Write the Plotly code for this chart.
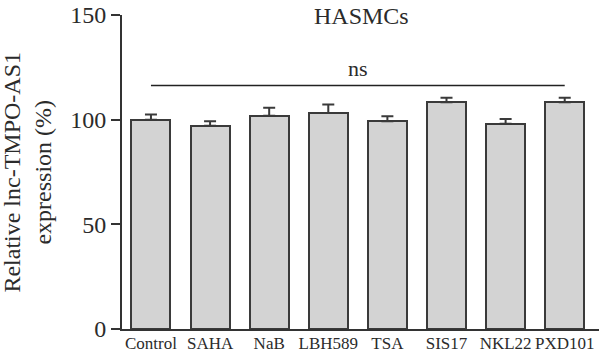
import plotly.graph_objects as go

categories = ["Control", "SAHA", "NaB", "LBH589", "TSA", "SIS17", "NKL22", "PXD101"]
values = [100.0, 97.1, 101.9, 103.2, 99.2, 108.3, 98.1, 108.3]
errors = [2.5, 2.2, 3.8, 4.0, 2.4, 2.2, 2.2, 2.2]
y_ticks = [0, 50, 100, 150]
sig_y = 116.3
sig_label = "ns"
title_text = "HASMCs"
y_label = "Relative lnc-TMPO-AS1<br>expression (%)"

FONT = "Liberation Serif"
INK = "#2b2b2b"

x_idx = list(range(len(categories)))

fig = go.Figure()
fig.add_trace(go.Bar(
    x=x_idx, y=values, width=0.66,
    marker=dict(color="#d3d3d3", line=dict(color="#3a3a3a", width=2)),
    error_y=dict(type="data", array=errors, arrayminus=[0] * len(errors),
                 symmetric=False, color="#3a3a3a", thickness=2, width=6),
    showlegend=False,
))

fig.add_shape(type="line", xref="x", yref="y", x0=x_idx[0], x1=x_idx[-1],
              y0=sig_y, y1=sig_y, line=dict(color="#222", width=1.5))
fig.add_annotation(x=(x_idx[0] + x_idx[-1]) / 2, y=sig_y + 1.0, xref="x", yref="y",
                   text=sig_label, showarrow=False, yanchor="bottom",
                   font=dict(family=FONT, size=22, color=INK))
fig.add_annotation(x=3.57, y=149.5, xref="x", yref="y", text=title_text,
                   showarrow=False, yanchor="middle",
                   font=dict(family=FONT, size=24, color=INK))
fig.add_annotation(x=-0.2, y=0.5, xref="paper", yref="paper", text=y_label,
                   textangle=-90, showarrow=False, xanchor="center", yanchor="middle",
                   font=dict(family=FONT, size=24, color=INK))

fig.update_layout(
    width=600, height=355,
    margin=dict(l=122, r=1, t=15, b=26),
    plot_bgcolor="white", paper_bgcolor="white",
    font=dict(family=FONT, size=20, color=INK),
    bargap=0,
)
fig.update_xaxes(
    range=[-0.49, 7.58], tickmode="array", tickvals=x_idx, ticktext=categories,
    showline=True, linecolor="#333", linewidth=2, ticks="", showgrid=False,
    zeroline=False, tickfont=dict(family=FONT, size=17, color=INK),
    tickangle=0, automargin=False, ticklabelstandoff=-2,
)
fig.update_yaxes(
    range=[0, 150], tickvals=y_ticks, showline=True, linecolor="#333", linewidth=2,
    ticks="outside", ticklen=9, tickwidth=2, tickcolor="#333", showgrid=False,
    zeroline=False, tickfont=dict(family=FONT, size=24, color=INK), automargin=False,
)

fig.write_html("out.html")
